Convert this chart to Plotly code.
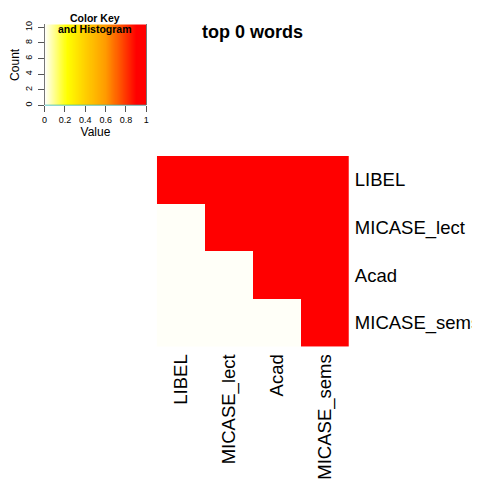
import numpy as np
import plotly.graph_objects as go

row_labels = ["LIBEL", "MICASE_lect", "Acad", "MICASE_sems"]
col_labels = ["LIBEL", "MICASE_lect", "Acad", "MICASE_sems"]
values = [
    [1, 1, 1, 1],
    [0, 1, 1, 1],
    [0, 0, 1, 1],
    [0, 0, 0, 1],
]
key_ticks = [0, 0.2, 0.4, 0.6, 0.8, 1]
key_tick_text = ["0", "0.2", "0.4", "0.6", "0.8", "1"]
count_ticks = [0, 2, 4, 6, 8, 10]
hist_x = [0, 1]
hist_y = [0, 0]
key_steps = np.linspace(0, 1, 201)

FONT = "Liberation Sans, Arial, Helvetica, sans-serif"
main_scale = [
    [0.0, "#FFFFF8"],
    [0.22, "#FFFF00"],
    [0.6, "#FF9A00"],
    [0.9, "#FF0000"],
    [1.0, "#FF0000"],
]
key_scale = [
    [0.0, "#FFFFFF"],
    [0.22, "#FFFF00"],
    [0.6, "#FF9A00"],
    [0.9, "#FF0000"],
    [1.0, "#FF0000"],
]

OFF = 8  # page body margin
W = H = 480 - OFF

def px_x(p):
    return (p - OFF) / W

def px_y(p):
    return 1 - (p - OFF) / H

fig = go.Figure()

fig.add_trace(go.Heatmap(
    z=values, x=col_labels, y=row_labels,
    colorscale=main_scale, zmin=0, zmax=1, showscale=False,
    xaxis="x", yaxis="y", hoverinfo="skip",
))

key_edges = list(key_steps)
key_centers = [(a + b) / 2 for a, b in zip(key_edges[:-1], key_edges[1:])]
fig.add_trace(go.Heatmap(
    z=[key_centers], x=key_edges, y=[0, 10.37],
    colorscale=key_scale, zmin=0, zmax=1, showscale=False,
    xaxis="x2", yaxis="y2", hoverinfo="skip",
))
fig.add_trace(go.Scatter(
    x=hist_x, y=hist_y, mode="lines", line=dict(color="#20B2B2", width=1.2),
    xaxis="x2", yaxis="y2", hoverinfo="skip", cliponaxis=False,
))

fig.update_layout(
    width=W, height=H,
    margin=dict(l=0, r=0, t=0, b=0),
    paper_bgcolor="white", plot_bgcolor="white",
    font=dict(family=FONT, color="black"),
    showlegend=False,
    xaxis=dict(
        domain=[px_x(160), px_x(360)],
        tickangle=-90, tickfont=dict(size=18.5), ticks="",
        showgrid=False, zeroline=False, showline=False,
        anchor="y", ticklabelstandoff=3,
    ),
    yaxis=dict(
        domain=[px_y(360), px_y(160)],
        autorange="reversed", side="right", tickfont=dict(size=18.5),
        ticks="", showgrid=False, zeroline=False, showline=False,
        anchor="x", ticklabelstandoff=5,
    ),
    xaxis2=dict(
        domain=[px_x(43), px_x(149)], range=[0, 1],
        tickvals=key_ticks, ticktext=key_tick_text,
        tickfont=dict(size=9), ticks="outside", ticklen=6, tickcolor="#555",
        showline=False, showgrid=False, zeroline=False,
        anchor="y2",
        title=dict(text="Value", font=dict(size=12), standoff=0),
    ),
    yaxis2=dict(
        domain=[px_y(107), px_y(22)], range=[0, 10.37],
        tickvals=count_ticks, tickangle=-90,
        tickfont=dict(size=9), ticks="outside", ticklen=6, tickcolor="#555",
        showline=True, linecolor="#777", linewidth=1, mirror=True,
        showgrid=False, zeroline=False,
        anchor="x2", ticklabelstandoff=2,
        title=dict(text="Count", font=dict(size=12), standoff=2),
    ),
    annotations=[
        dict(text="<b>Color Key</b>", x=px_x(96), y=px_y(OFF),
             xref="paper", yref="paper", xanchor="center", yanchor="top",
             showarrow=False, font=dict(size=10.5), borderpad=0),
        dict(text="<b>and Histogram</b>", x=px_x(96), y=px_y(20),
             xref="paper", yref="paper", xanchor="center", yanchor="top",
             showarrow=False, font=dict(size=10.5), borderpad=0),
        dict(text="<b>top 0 words</b>", x=px_x(260), y=px_y(30),
             xref="paper", yref="paper", xanchor="center", yanchor="middle",
             showarrow=False, font=dict(size=18)),
    ],
)

fig.write_html("out.html")
